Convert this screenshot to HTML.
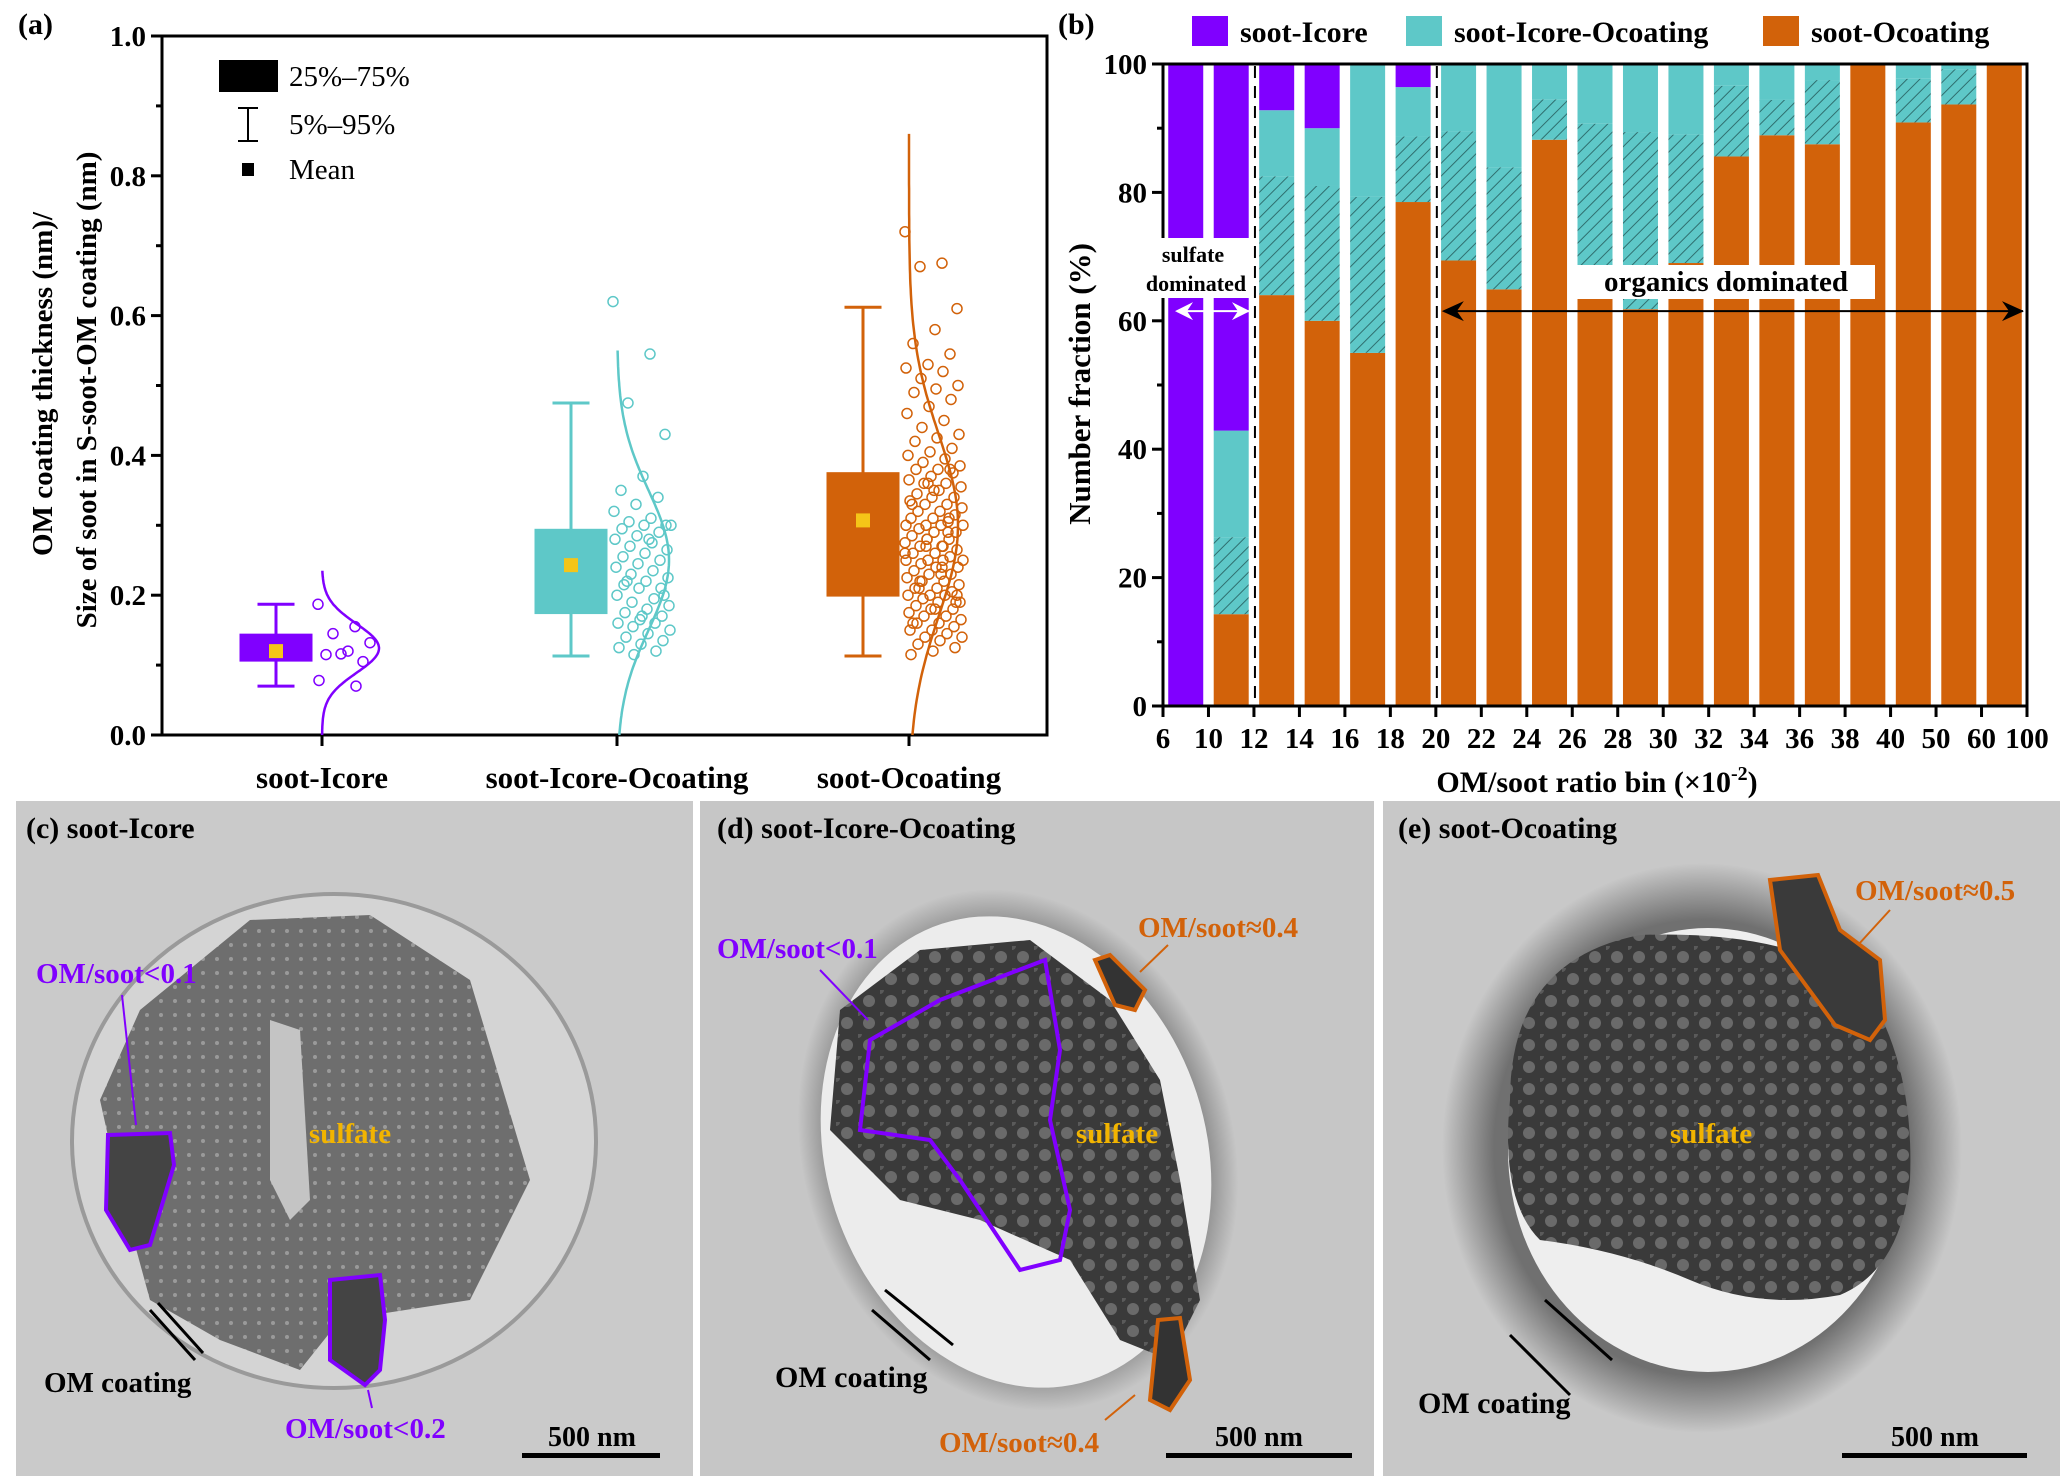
<!DOCTYPE html>
<html><head><meta charset="utf-8"><style>
html,body{margin:0;padding:0;background:#fff;}
svg{display:block;font-family:"Liberation Serif",serif;}
</style></head><body>
<svg id="fig" width="2067" height="1483" viewBox="0 0 2067 1483">
<defs>
<pattern id="hatch" patternUnits="userSpaceOnUse" width="9" height="9" patternTransform="rotate(45)">
<rect width="9" height="9" fill="#5ec8c8"/><line x1="0" y1="0" x2="0" y2="9" stroke="#2f6f6f" stroke-width="2"/>
</pattern>
<pattern id="bubbles" patternUnits="userSpaceOnUse" width="22" height="22">
<rect width="22" height="22" fill="#3a3a3a"/><circle cx="11" cy="11" r="6" fill="#6a6a6a"/><circle cx="0" cy="0" r="4" fill="#5a5a5a"/>
</pattern>
<pattern id="dots" patternUnits="userSpaceOnUse" width="14" height="14">
<rect width="14" height="14" fill="#6e6e6e"/><circle cx="7" cy="7" r="2" fill="#9a9a9a"/>
</pattern>
<radialGradient id="haloE" cx="0.5" cy="0.5" r="0.5">
<stop offset="0.8" stop-color="#707070"/><stop offset="1" stop-color="#c8c8c8"/></radialGradient>
<radialGradient id="haloD" cx="0.5" cy="0.5" r="0.5">
<stop offset="0.85" stop-color="#8a8a8a"/><stop offset="1" stop-color="#c6c6c6"/></radialGradient>
</defs>
<g id="panelA"></g>
<g id="panelB"></g>
<g id="photos">
 <g>
  <rect x="16" y="801" width="677" height="675" fill="#cacaca"/>
  <ellipse cx="334" cy="1141" rx="262" ry="247" fill="#d4d4d4" stroke="#9a9a9a" stroke-width="4"/>
  <path d="M140 1010 L250 920 L370 915 L470 980 L500 1080 L530 1180 L470 1300 L340 1320 L300 1370 L220 1340 L150 1300 L120 1190 L100 1100 Z" fill="url(#dots)"/>
  <path d="M270 1020 L300 1030 L310 1200 L290 1220 L270 1180 Z" fill="#c4c4c4"/>
  <path d="M108 1135 L170 1133 L174 1165 L150 1245 L130 1250 L106 1210 Z" fill="#444" stroke="#8000ff" stroke-width="4"/>
  <path d="M330 1280 L380 1275 L385 1320 L380 1370 L365 1385 L330 1360 Z" fill="#444" stroke="#8000ff" stroke-width="4"/>
  <text x="26" y="838" font-size="30" font-weight="bold">(c) soot-Icore</text>
  <text x="36" y="983" font-size="29" font-weight="bold" fill="#8000ff">OM/soot&lt;0.1</text>
  <line x1="122" y1="995" x2="136" y2="1125" stroke="#8000ff" stroke-width="2"/>
  <text x="350" y="1143" font-size="29" font-weight="bold" fill="#f2b400" text-anchor="middle">sulfate</text>
  <text x="44" y="1392" font-size="29" font-weight="bold">OM coating</text>
  <line x1="150" y1="1310" x2="195" y2="1360" stroke="#000" stroke-width="3"/><line x1="158" y1="1303" x2="203" y2="1353" stroke="#000" stroke-width="3"/>
  <text x="285" y="1438" font-size="29" font-weight="bold" fill="#8000ff">OM/soot&lt;0.2</text>
  <line x1="372" y1="1408" x2="368" y2="1390" stroke="#8000ff" stroke-width="2"/>
  <text x="592" y="1446" font-size="28" font-weight="bold" text-anchor="middle">500 nm</text>
  <rect x="522" y="1453" width="138" height="5" fill="#000"/>
 </g>
 <g>
  <rect x="700" y="801" width="674" height="675" fill="#c6c6c6"/>
  <ellipse cx="1018" cy="1150" rx="215" ry="265" transform="rotate(-18 1018 1150)" fill="url(#haloD)"/>
  <ellipse cx="1016" cy="1152" rx="190" ry="240" transform="rotate(-18 1016 1152)" fill="#ececec"/>
  <path d="M840 1010 L920 950 L1030 940 L1110 1000 L1160 1080 L1180 1180 L1200 1300 L1170 1360 L1120 1340 L1070 1260 L980 1220 L900 1200 L830 1130 Z" fill="url(#bubbles)"/>
  <path d="M870 1040 L940 1000 L1045 960 L1060 1050 L1050 1120 L1070 1210 L1060 1260 L1020 1270 L960 1180 L930 1140 L860 1130 Z" fill="none" stroke="#8000ff" stroke-width="4"/>
  <path d="M1095 960 L1110 955 L1145 990 L1135 1010 L1115 1005 Z" fill="#333" stroke="#d2620a" stroke-width="4"/>
  <path d="M1158 1320 L1180 1318 L1190 1380 L1170 1410 L1150 1400 Z" fill="#333" stroke="#d2620a" stroke-width="4"/>
  <text x="717" y="838" font-size="30" font-weight="bold">(d) soot-Icore-Ocoating</text>
  <text x="717" y="958" font-size="29" font-weight="bold" fill="#8000ff">OM/soot&lt;0.1</text>
  <line x1="820" y1="970" x2="868" y2="1020" stroke="#8000ff" stroke-width="2"/>
  <text x="1138" y="937" font-size="29" font-weight="bold" fill="#d2620a">OM/soot≈0.4</text>
  <line x1="1168" y1="945" x2="1140" y2="972" stroke="#d2620a" stroke-width="2"/>
  <text x="1117" y="1143" font-size="29" font-weight="bold" fill="#f2b400" text-anchor="middle">sulfate</text>
  <text x="775" y="1387" font-size="30" font-weight="bold">OM coating</text>
  <line x1="872" y1="1310" x2="930" y2="1360" stroke="#000" stroke-width="3"/><line x1="885" y1="1290" x2="953" y2="1345" stroke="#000" stroke-width="3"/>
  <text x="939" y="1452" font-size="29" font-weight="bold" fill="#d2620a">OM/soot≈0.4</text>
  <line x1="1105" y1="1420" x2="1135" y2="1395" stroke="#d2620a" stroke-width="2"/>
  <text x="1259" y="1446" font-size="28" font-weight="bold" text-anchor="middle">500 nm</text>
  <rect x="1166" y="1453" width="186" height="5" fill="#000"/>
 </g>
 <g>
  <rect x="1383" y="801" width="677" height="675" fill="#c8c8c8"/>
  <ellipse cx="1702" cy="1148" rx="260" ry="285" fill="url(#haloE)"/>
  <ellipse cx="1708" cy="1150" rx="200" ry="222" fill="#eeeeee"/>
  <path d="M1510 1100 Q1510 960 1640 935 Q1780 930 1860 980 Q1915 1060 1910 1180 Q1900 1270 1840 1295 Q1760 1310 1690 1280 Q1620 1250 1540 1240 Q1500 1200 1510 1100 Z" fill="url(#bubbles)"/>
  <path d="M1770 880 L1818 875 L1840 930 L1880 960 L1885 1020 L1870 1040 L1835 1025 L1780 950 Z" fill="#3a3a3a" stroke="#d2620a" stroke-width="4"/>
  <text x="1398" y="838" font-size="30" font-weight="bold">(e) soot-Ocoating</text>
  <text x="1855" y="900" font-size="29" font-weight="bold" fill="#d2620a">OM/soot≈0.5</text>
  <line x1="1890" y1="910" x2="1858" y2="945" stroke="#d2620a" stroke-width="2"/>
  <text x="1711" y="1143" font-size="29" font-weight="bold" fill="#f2b400" text-anchor="middle">sulfate</text>
  <text x="1418" y="1413" font-size="30" font-weight="bold">OM coating</text>
  <line x1="1510" y1="1335" x2="1570" y2="1395" stroke="#000" stroke-width="3"/><line x1="1545" y1="1300" x2="1612" y2="1360" stroke="#000" stroke-width="3"/>
  <text x="1935" y="1446" font-size="28" font-weight="bold" text-anchor="middle">500 nm</text>
  <rect x="1842" y="1453" width="185" height="5" fill="#000"/>
 </g>
</g>
</svg>
<script>
// ---------- Panel (a) data ----------
const catsA = ["soot-Icore","soot-Icore-Ocoating","soot-Ocoating"];
const colorsA = ["#8000ff","#5ec8c8","#d2620a"];
const q1A = [0.105,0.173,0.198];
const q3A = [0.145,0.295,0.376];
const meanA = [0.12,0.243,0.307];
const p5A = [0.07,0.113,0.113];
const p95A = [0.187,0.475,0.612];
const distMu = [0.124,0.25,0.30];
const distSd = [0.035,0.1,0.13];
const distTop = [0.235,0.55,0.86];
const ptsA1 = [0.187,0.155,0.145,0.132,0.12,0.115,0.105,0.116,0.078,0.07];
const ptsA2 = [0.62,0.545,0.475,0.43,0.37,0.35,0.34,0.33,0.32,0.31,0.305,0.3,0.3,0.295,0.29,0.285,0.28,0.275,0.27,0.265,0.26,0.255,0.25,0.245,0.24,0.235,0.23,0.225,0.22,0.215,0.21,0.21,0.2,0.195,0.19,0.185,0.18,0.175,0.17,0.165,0.16,0.16,0.155,0.15,0.145,0.14,0.135,0.13,0.125,0.12,0.115,0.3,0.28,0.22,0.2,0.17];
const ptsA3 = [0.72,0.675,0.67,0.61,0.58,0.56,0.545,0.53,0.525,0.52,0.51,0.5,0.495,0.49,0.48,0.47,0.46,0.45,0.44,0.43,0.425,0.42,0.41,0.405,0.4,0.395,0.39,0.385,0.38,0.38,0.375,0.37,0.365,0.36,0.36,0.355,0.35,0.345,0.34,0.34,0.335,0.33,0.33,0.325,0.32,0.32,0.315,0.31,0.31,0.305,0.3,0.3,0.3,0.295,0.29,0.29,0.285,0.28,0.28,0.275,0.27,0.27,0.265,0.26,0.26,0.255,0.25,0.25,0.25,0.245,0.24,0.24,0.235,0.23,0.23,0.225,0.22,0.22,0.215,0.21,0.21,0.205,0.2,0.2,0.2,0.195,0.19,0.19,0.185,0.18,0.18,0.175,0.17,0.17,0.165,0.16,0.16,0.155,0.15,0.15,0.145,0.14,0.14,0.135,0.13,0.125,0.12,0.115,0.29,0.27,0.25,0.23,0.21,0.19,0.35,0.33,0.31,0.28,0.26,0.24,0.22,0.2,0.18,0.16,0.38,0.36,0.3,0.27];
const ticksA = ["0.0","0.2","0.4","0.6","0.8","1.0"];
const tickValsA = [0,0.2,0.4,0.6,0.8,1.0];

// ---------- Panel (b) data ----------
const binLabels = ["6","10","12","14","16","18","20","22","24","26","28","30","32","34","36","38","40","50","60","100"];
const orangeB = [0,14.3,64,60,55,78.5,69.4,64.9,88.2,68,61.8,69,85.6,88.9,87.5,100,90.9,93.7,100];
const hatchB  = [0,12,18.5,21,24.3,10.2,20.1,19,6.3,22.7,27.6,20,11,5.5,10,0,6.8,5.5,0];
const cyanB   = [0,16.6,10.3,9,20.7,7.7,10.5,16.1,5.5,9.3,10.6,11,3.4,5.6,2.5,0,2.3,0.8,0];
const purpleB = [100,57.1,7.2,10,0,3.6,0,0,0,0,0,0,0,0,0,0,0,0,0];
const ticksB = [0,20,40,60,80,100];

const NS="http://www.w3.org/2000/svg";
function mk(parent,tag,attrs,text){const e=document.createElementNS(NS,tag);for(const k in attrs)e.setAttribute(k,attrs[k]);if(text!==undefined)e.textContent=text;parent.appendChild(e);return e;}

// ---------- draw panel (a) ----------
const A=document.getElementById('panelA');
const aL=162,aR=1047,aT=36,aB=735;
const ya=v=>aB-v*(aB-aT);
const catX=[322,617,909];
const xa=i=>catX[i];
mk(A,'text',{x:18,y:34,'font-size':30,'font-weight':'bold'},'(a)');
let fr=mk(A,'rect',{x:aL,y:aT,width:aR-aL,height:aB-aT,fill:'none',stroke:'#000','stroke-width':3});


for(let k=0;k<=10;k++){const y=ya(k/10);mk(A,'line',{x1:aL,x2:aL-(k%2?6:11),y1:y,y2:y,stroke:'#000','stroke-width':3});}
tickValsA.forEach((v,i)=>{const t=mk(A,'text',{x:aL-16,y:ya(v)+10,'font-size':29,'font-weight':'bold','text-anchor':'end'},ticksA[i]);

});
catsA.forEach((c,i)=>{mk(A,'line',{x1:xa(i),x2:xa(i),y1:aB,y2:aB+11,stroke:'#000','stroke-width':3});
const t=mk(A,'text',{x:xa(i),y:788,'font-size':31,'font-weight':'bold','text-anchor':'middle'},c);

});
const yt=mk(A,'text',{transform:'translate(52,384) rotate(-90)','font-size':29,'font-weight':'bold','text-anchor':'middle'},'OM coating thickness (nm)/');


const yt2=mk(A,'text',{transform:'translate(96,390) rotate(-90)','font-size':29,'font-weight':'bold','text-anchor':'middle'},'Size of soot in S-soot-OM coating (nm)');


const allPts=[ptsA1,ptsA2,ptsA3];
const distW=[57,52,49];
catsA.forEach((c,i)=>{
 const col=colorsA[i], cx=xa(i)-46, bw=73, cw=37;
 const g=mk(A,'g',{});
 
 
 mk(g,'line',{x1:cx,x2:cx,y1:ya(p95A[i]),y2:ya(p5A[i]),stroke:col,'stroke-width':3});
 mk(g,'line',{x1:cx-cw/2,x2:cx+cw/2,y1:ya(p95A[i]),y2:ya(p95A[i]),stroke:col,'stroke-width':3});
 mk(g,'line',{x1:cx-cw/2,x2:cx+cw/2,y1:ya(p5A[i]),y2:ya(p5A[i]),stroke:col,'stroke-width':3});
 mk(g,'rect',{x:cx-bw/2,y:ya(q3A[i]),width:bw,height:ya(q1A[i])-ya(q3A[i]),fill:col});
 mk(g,'rect',{x:cx-7,y:ya(meanA[i])-7,width:14,height:14,fill:'#f5c518'});
 let d='';
 for(let s=0;s<=120;s++){const v=distTop[i]*s/120;const w=distW[i]*Math.exp(-0.5*Math.pow((v-distMu[i])/distSd[i],2));d+=(s?'L':'M')+(xa(i)+w).toFixed(1)+' '+ya(v).toFixed(1);}
 const cv=mk(A,'path',{d:d,fill:'none',stroke:col,'stroke-width':2.5});
 
 
 const pg=mk(A,'g',{});
 
 
 allPts[i].forEach((v,j)=>{const jit=((j*37)%59);mk(pg,'circle',{cx:xa(i)-4+jit,cy:ya(v),r:5,fill:'none',stroke:col,'stroke-width':1.5});});
});
const la=mk(A,'g',{});


mk(la,'rect',{x:219,y:60,width:59,height:32,fill:'#000'});
mk(la,'text',{x:289,y:86,'font-size':29},'25%–75%');
mk(la,'line',{x1:248,x2:248,y1:108,y2:141,stroke:'#000','stroke-width':2});
mk(la,'line',{x1:238,x2:258,y1:108,y2:108,stroke:'#000','stroke-width':2});
mk(la,'line',{x1:238,x2:258,y1:141,y2:141,stroke:'#000','stroke-width':2});
mk(la,'text',{x:289,y:134,'font-size':29},'5%–95%');
mk(la,'rect',{x:242,y:163,width:12,height:13,fill:'#000'});
mk(la,'text',{x:289,y:179,'font-size':29},'Mean');

// ---------- draw panel (b) ----------
const B=document.getElementById('panelB');
const bL=1163,bR=2027,bT=64,bB=706;
const nb=orangeB.length, bin=(bR-bL)/nb, barW=35;
const yb=v=>bB-v*(bB-bT)/100;
const xb=i=>bL+i*bin;
mk(B,'text',{x:1058,y:34,'font-size':30,'font-weight':'bold'},'(b)');
for(let i=0;i<nb;i++){
 const x=xb(i)+(bin-barW)/2; let base=0;
 const segs=[[orangeB[i],'#d2620a','orange'],[hatchB[i],'url(#hatch)','hatched'],[cyanB[i],'#5ec8c8','cyan'],[purpleB[i],'#8000ff','purple']];
 segs.forEach(s=>{ if(s[0]>0){const r=mk(B,'rect',{x:x,y:yb(base+s[0]),width:barW,height:yb(base)-yb(base+s[0]),fill:s[1]});
 
 } base+=s[0];});
}
[2,6].forEach(k=>{const x=xb(k)+1;const l=mk(B,'line',{x1:x,x2:x,y1:bT+2,y2:bB,stroke:'#000','stroke-width':2,'stroke-dasharray':'12,8'});

});
const fb=mk(B,'rect',{x:bL,y:bT,width:bR-bL,height:bB-bT,fill:'none',stroke:'#000','stroke-width':3});


for(let k=0;k<=10;k++){const y=yb(k*10);mk(B,'line',{x1:bL,x2:bL-(k%2?6:11),y1:y,y2:y,stroke:'#000','stroke-width':3});}
ticksB.forEach(v=>{const t=mk(B,'text',{x:bL-16,y:yb(v)+10,'font-size':29,'font-weight':'bold','text-anchor':'end'},String(v));

});
binLabels.forEach((s,i)=>{const x=xb(i);mk(B,'line',{x1:x,x2:x,y1:bB,y2:bB+11,stroke:'#000','stroke-width':3});
const t=mk(B,'text',{x:x,y:748,'font-size':29,'font-weight':'bold','text-anchor':'middle'},s);

});
const xtb=mk(B,'text',{x:1597,y:792,'font-size':30,'font-weight':'bold','text-anchor':'middle'});


xtb.innerHTML='OM/soot ratio bin (×10<tspan dy="-12" font-size="20">-2</tspan><tspan dy="12">)</tspan>';
const ytb=mk(B,'text',{transform:'translate(1090,384) rotate(-90)','font-size':31,'font-weight':'bold','text-anchor':'middle'},'Number fraction (%)');


mk(B,'rect',{x:1140,y:238,width:113,height:60,fill:'#fff'});
mk(B,'text',{x:1193,y:262,'font-size':22,'font-weight':'bold','text-anchor':'middle'},'sulfate');
mk(B,'text',{x:1196,y:291,'font-size':22,'font-weight':'bold','text-anchor':'middle'},'dominated');
const ya1=yb(61.5);
mk(B,'line',{x1:xb(0)+14,x2:xb(2)-4,y1:ya1,y2:ya1,stroke:'#fff','stroke-width':2});
mk(B,'path',{d:`M${xb(0)+12} ${ya1} l18 -9 l-6 9 l6 9 Z M${xb(2)-4} ${ya1} l-18 -9 l6 9 l-6 9 Z`,fill:'#fff'});
const ob=mk(B,'rect',{x:1577,y:265,width:298,height:34,fill:'#fff'});


mk(B,'text',{x:1726,y:291,'font-size':29,'font-weight':'bold','text-anchor':'middle'},'organics dominated');
mk(B,'line',{x1:xb(6)+8,x2:bR-4,y1:ya1,y2:ya1,stroke:'#000','stroke-width':2});
mk(B,'path',{d:`M${xb(6)+6} ${ya1} l22 -10 l-7 10 l7 10 Z M${bR-3} ${ya1} l-22 -10 l7 10 l-7 10 Z`,fill:'#000'});
const lb=mk(B,'g',{});


[['soot-Icore','#8000ff',1192],['soot-Icore-Ocoating','#5ec8c8',1406],['soot-Ocoating','#d2620a',1763]].forEach(e=>{
 mk(lb,'rect',{x:e[2],y:16,width:36,height:30,fill:e[1]});
 mk(lb,'text',{x:e[2]+48,y:42,'font-size':30,'font-weight':'bold'},e[0]);
});
</script>
</body></html>
